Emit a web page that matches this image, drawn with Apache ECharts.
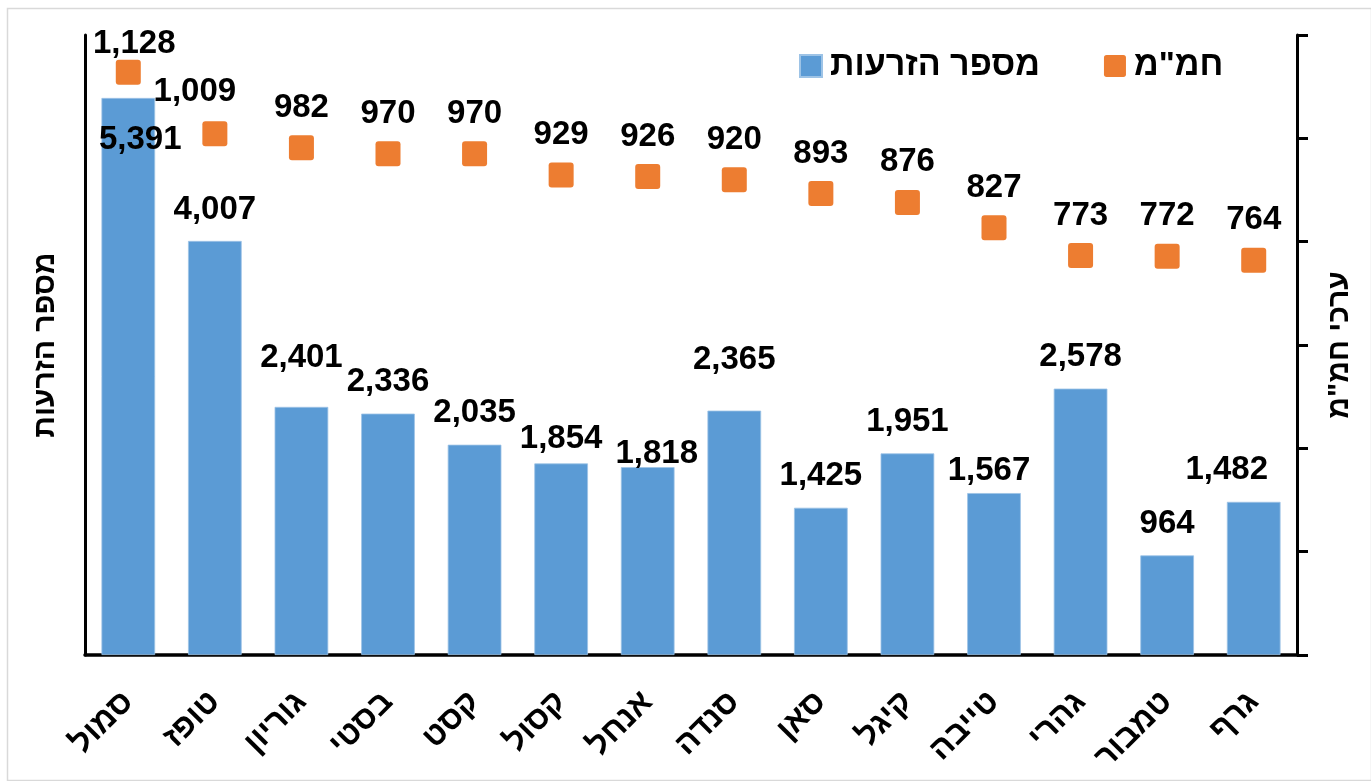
<!DOCTYPE html>
<html>
<head>
<meta charset="utf-8">
<script src="https://cdn.jsdelivr.net/npm/echarts@6/dist/echarts.min.js"></script>
<style>
html,body{margin:0;padding:0;background:#fff;}
#chart{width:1371px;height:781px;}
</style>
</head>
<body>
<div id="chart"></div>
<script>
// ---- data ----
const categories = ['סמול','טופז','גוריון','בסטי','קסט','קסול','אנחל','סנדה','סאן','קיגל','טייבה','גהרי','טמבור','גרף'];
const sowings = [5391, 4007, 2401, 2336, 2035, 1854, 1818, 2365, 1425, 1951, 1567, 2578, 964, 1482];
const hmm = [1128, 1009, 982, 970, 970, 929, 926, 920, 893, 876, 827, 773, 772, 764];
const seriesNames = ['מספר הזרעות', 'חמ"מ'];
const leftAxisName = 'מספר הזרעות';
const rightAxisName = 'ערכי חמ"מ';

// ---- label nudges (style only) ----
const barLabelShift = [[12, 0], [0, 0], [0, -17], [0, 0], [0, 0], [0, 7], [9, 18], [0, -19], [0, 0], [0, 0], [-5, 9], [0, 0], [0, 0], [-27, 0]];
const dotLabelShift = [[6, 12], [-20, -2], [0, 0], [0, 0], [0, 0], [0, 0], [0, 0], [0, 0], [0, 0], [0, 0], [0, 0], [0, 0], [0, 0], [0, 0]];

const FONT = "'Liberation Sans', 'DejaVu Sans', Arial, sans-serif";
const fmt = v => Number(v).toLocaleString('en-US');
const squareSymbol = 'path://M1.2,0 H8.8 Q10,0 10,1.2 V8.8 Q10,10 8.8,10 H1.2 Q0,10 0,8.8 V1.2 Q0,0 1.2,0 Z';

const barData = sowings.map((v, i) => {
  const item = { value: v, label: { offset: barLabelShift[i] } };
  if (i === 0) { item.label.position = 'insideTop'; item.label.distance = 25; }
  return item;
});
const dotData = hmm.map((v, i) => ({ value: v, label: { offset: dotLabelShift[i] } }));

const chart = echarts.init(document.getElementById('chart'), null, { renderer: 'canvas' });
chart.setOption({
  backgroundColor: '#ffffff',
  animation: false,
  textStyle: { fontFamily: FONT },
  graphic: [{
    type: 'rect', left: 5, top: 6, shape: { width: 1364, height: 772 },
    style: { fill: 'none', stroke: '#d9d9d9', lineWidth: 1.5 }, silent: true, z: -1
  }],
  legend: {
    left: 794, top: 44,
    itemWidth: 22, itemHeight: 22, itemGap: 64,
    textStyle: { fontFamily: FONT, fontSize: 34, fontWeight: 'bold', color: '#000', padding: [0, 0, 0, 3] },
    data: [
      { name: seriesNames[0], icon: 'rect' },
      { name: seriesNames[1], icon: squareSymbol }
    ]
  },
  grid: { left: 85, right: 74, top: 35, bottom: 126, containLabel: false },
  xAxis: {
    type: 'category',
    data: categories,
    axisLine: { show: true, lineStyle: { color: '#000', width: 3.5 } },
    axisTick: { show: false },
    axisLabel: {
      rotate: 45, interval: 0, margin: 42,
      fontFamily: FONT, fontSize: 32, fontWeight: 'bold', color: '#000'
    }
  },
  yAxis: [{
    type: 'value', position: 'left', min: 0, max: 6000, interval: 1000,
    name: leftAxisName, nameLocation: 'middle', nameRotate: 90, nameGap: 24,
    nameTextStyle: { fontFamily: FONT, fontSize: 30, fontWeight: 'bold', color: '#000' },
    axisLine: { show: true, lineStyle: { color: '#000', width: 3 } },
    axisTick: { show: false },
    axisLabel: { show: false },
    splitLine: { show: false }
  }, {
    type: 'value', position: 'right', min: 0, max: 1200, interval: 200,
    name: rightAxisName, nameLocation: 'middle', nameRotate: 90, nameGap: 28,
    nameTextStyle: { fontFamily: FONT, fontSize: 30, fontWeight: 'bold', color: '#000' },
    axisLine: { show: true, lineStyle: { color: '#000', width: 3 } },
    axisTick: { show: true, inside: false, length: 11, lineStyle: { color: '#000', width: 3 } },
    axisLabel: { show: false },
    splitLine: { show: false }
  }],
  series: [{
    name: seriesNames[0],
    type: 'bar',
    yAxisIndex: 0,
    barWidth: '62%',
    itemStyle: { color: '#5B9BD5', borderColor: '#9DC3E6', borderWidth: 0.8 },
    label: {
      show: true, position: 'top', distance: 15,
      fontFamily: FONT, fontSize: 33, fontWeight: 'bold', color: '#000',
      formatter: p => fmt(p.value)
    },
    data: barData
  }, {
    name: seriesNames[1],
    type: 'scatter',
    yAxisIndex: 1,
    symbol: squareSymbol,
    symbolSize: 25,
    itemStyle: { color: '#ED7D31', opacity: 1 },
    label: {
      show: true, position: 'top', distance: 11,
      fontFamily: FONT, fontSize: 33, fontWeight: 'bold', color: '#000',
      formatter: p => fmt(p.value)
    },
    z: 3,
    data: dotData
  }]
});
</script>
</body>
</html>
